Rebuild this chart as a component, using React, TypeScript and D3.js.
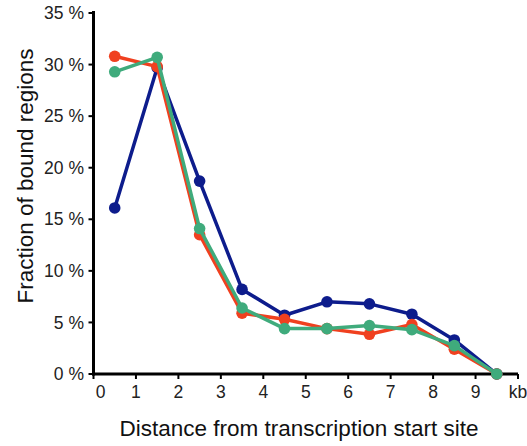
import React from "react";
import * as d3 from "d3";

// distance bins (kb, bin centres)
const distances = [0.5, 1.5, 2.5, 3.5, 4.5, 5.5, 6.5, 7.5, 8.5, 9.5];

// fraction of bound regions (%)
const blueSeries = [16.1, 29.7, 18.7, 8.2, 5.7, 7.0, 6.8, 5.8, 3.3, 0];
const redSeries = [30.8, 29.8, 13.5, 5.9, 5.3, 4.4, 3.85, 4.8, 2.4, 0];
const greenSeries = [29.3, 30.7, 14.1, 6.4, 4.4, 4.4, 4.7, 4.3, 2.75, 0];

const xTicks = [0, 1, 2, 3, 4, 5, 6, 7, 8, 9, 10];
const yTicks = [0, 5, 10, 15, 20, 25, 30, 35];

const series = [
  { name: "blue", values: blueSeries, color: "#0d1c8c" },
  { name: "red", values: redSeries, color: "#f0401f" },
  { name: "green", values: greenSeries, color: "#3fab7c" },
];

export default function App() {
  const width = 527;
  const height = 446;
  const font = "'Liberation Sans', Arial, sans-serif";

  const x = d3.scaleLinear().domain([0, 10]).range([93.5, 518]);
  const y = d3.scaleLinear().domain([0, 35]).range([374, 13]);

  const line = d3
    .line<number>()
    .x((_, i) => x(distances[i]))
    .y((d) => y(d));

  return (
    <svg
      width={width}
      height={height}
      style={{ position: "absolute", left: 0, top: 0, background: "#fff" }}
    >
      {/* y axis */}
      <line x1={x(0)} x2={x(0)} y1={y(35) - 2} y2={y(0) + 1.5} stroke="#000" strokeWidth={3} />
      {yTicks.map((t) => (
        <g key={t}>
          <line x1={x(0) - 5} x2={x(0)} y1={y(t)} y2={y(t)} stroke="#000" strokeWidth={2} />
          <text
            x={84}
            y={y(t)}
            dy="0.35em"
            textAnchor="end"
            fontFamily={font}
            fontSize={17.5}
            fill="#222"
          >
            {t} %
          </text>
        </g>
      ))}

      {/* x axis */}
      <line x1={x(0) - 1.5} x2={x(10)} y1={y(0)} y2={y(0)} stroke="#000" strokeWidth={3} />
      {xTicks.map((t) => (
        <g key={t}>
          <line x1={x(t)} x2={x(t)} y1={y(0)} y2={y(0) + 5} stroke="#000" strokeWidth={2} />
          <text
            x={x(t) + (t === 0 ? 7 : 0)}
            y={398}
            textAnchor="middle"
            fontFamily={font}
            fontSize={17.5}
            fill="#222"
          >
            {t === 10 ? "kb" : t}
          </text>
        </g>
      ))}

      {/* series */}
      {series.map((s) => (
        <g key={s.name}>
          <path d={line(s.values) || ""} fill="none" stroke={s.color} strokeWidth={3.5} strokeLinejoin="round" />
          {s.values.map((v, i) => (
            <circle key={i} cx={x(distances[i])} cy={y(v)} r={5.8} fill={s.color} />
          ))}
        </g>
      ))}

      {/* axis titles */}
      <text
        x={299}
        y={436}
        textAnchor="middle"
        fontFamily={font}
        fontSize={22.5}
        fill="#111"
      >
        Distance from transcription start site
      </text>
      <text
        transform={`translate(33, 176) rotate(-90)`}
        textAnchor="middle"
        fontFamily={font}
        fontSize={22.5}
        fill="#111"
      >
        Fraction of bound regions
      </text>
    </svg>
  );
}
